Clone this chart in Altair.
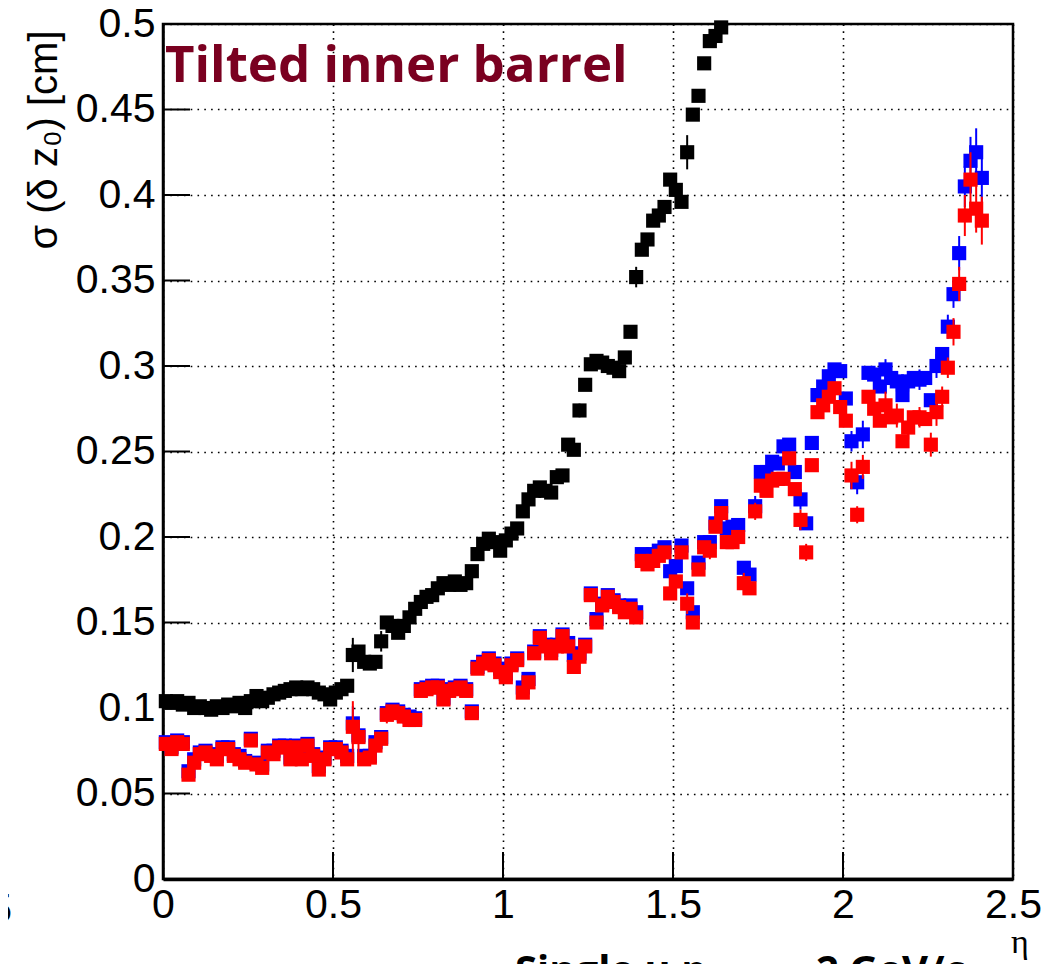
import altair as alt
import pandas as pd

# ---------------- data ----------------
BIN_WIDTH = 1 / 60.0  # eta bin width

black = [
    0.104, 0.103, 0.104, 0.102, 0.103, 0.100, 0.101, 0.100, 0.099, 0.101,
    0.100, 0.102, 0.101, 0.103, 0.100, 0.104, 0.107, 0.104, 0.106, 0.108,
    0.109, 0.110, 0.111, 0.112, 0.111, 0.112, 0.111, 0.109, 0.108, 0.105,
    0.109, 0.111, 0.113, 0.131, 0.133, 0.127, 0.126, 0.127, 0.139, 0.150,
    0.148, 0.144, 0.148, 0.153, 0.158, 0.162, 0.165, 0.166, 0.170, 0.173,
    0.172, 0.174, 0.172, 0.173, 0.180, 0.190, 0.196, 0.199, 0.197, 0.192,
    0.198, 0.202, 0.205, 0.215, 0.222, 0.227, 0.229, 0.227, 0.226, 0.235,
    0.236, 0.254, 0.251, 0.274, 0.289, 0.301, 0.303, 0.302, 0.300, 0.299,
    0.297, 0.305, 0.320, 0.352, 0.368, 0.374, 0.385, 0.388, 0.393, 0.409,
    0.403, 0.396, 0.425, 0.447, 0.458, 0.477, 0.490, 0.493, 0.498,
]

blue = [
    0.080, 0.077, 0.081, 0.080, 0.063, 0.070, 0.074, 0.075, 0.073, 0.072,
    0.077, 0.077, 0.073, 0.072, 0.069, 0.082, 0.068, 0.067, 0.075, 0.075,
    0.078, 0.078, 0.071, 0.078, 0.072, 0.079, 0.073, 0.066, 0.071, 0.077,
    0.077, 0.075, 0.072, 0.091, 0.084, 0.072, 0.072, 0.080, 0.083, 0.097,
    0.099, 0.098, 0.096, 0.095, 0.094, 0.111, 0.112, 0.113, 0.113, 0.106,
    0.111, 0.112, 0.113, 0.111, 0.098, 0.124, 0.127, 0.129, 0.126, 0.123,
    0.120, 0.126, 0.129, 0.112, 0.117, 0.133, 0.142, 0.137, 0.134, 0.137,
    0.143, 0.138, 0.131, 0.132, 0.137, 0.167, 0.152, 0.161, 0.166, 0.163,
    0.160, 0.159, 0.160, 0.156, 0.190, 0.188, 0.190, 0.192, 0.194, 0.180,
    0.183, 0.195, 0.170, 0.156, 0.185, 0.197, 0.197, 0.208, 0.218, 0.205,
    0.206, 0.207, 0.182, 0.178, 0.218, 0.238, 0.238, 0.244, 0.243, 0.253,
    0.254, 0.238, 0.222, 0.208, 0.255, 0.283, 0.288, 0.294, 0.298, 0.297,
    0.281, 0.256, 0.232, 0.260, 0.296, 0.295, 0.288, 0.298, 0.293, 0.291,
    0.283, 0.291, 0.293, 0.292, 0.293, 0.280, 0.300, 0.307, 0.323, 0.342,
    0.366, 0.405, 0.420, 0.425, 0.410,
]

red = [
    0.079, 0.076, 0.080, 0.079, 0.061, 0.068, 0.073, 0.074, 0.072, 0.070,
    0.076, 0.076, 0.072, 0.070, 0.068, 0.081, 0.067, 0.065, 0.074, 0.073,
    0.077, 0.077, 0.070, 0.077, 0.070, 0.078, 0.072, 0.064, 0.070, 0.076,
    0.076, 0.074, 0.070, 0.089, 0.083, 0.070, 0.071, 0.078, 0.082, 0.096,
    0.098, 0.097, 0.095, 0.093, 0.093, 0.110, 0.111, 0.112, 0.112, 0.105,
    0.110, 0.111, 0.112, 0.110, 0.097, 0.123, 0.126, 0.128, 0.125, 0.121,
    0.118, 0.125, 0.128, 0.109, 0.115, 0.132, 0.141, 0.136, 0.132, 0.136,
    0.142, 0.136, 0.124, 0.130, 0.136, 0.166, 0.150, 0.160, 0.165, 0.162,
    0.159, 0.156, 0.158, 0.153, 0.186, 0.184, 0.186, 0.189, 0.191, 0.167,
    0.174, 0.191, 0.161, 0.150, 0.181, 0.194, 0.192, 0.206, 0.214, 0.197,
    0.197, 0.200, 0.173, 0.170, 0.215, 0.230, 0.227, 0.233, 0.234, 0.234,
    0.246, 0.228, 0.210, 0.191, 0.242, 0.273, 0.277, 0.282, 0.287, 0.276,
    0.268, 0.236, 0.213, 0.241, 0.282, 0.275, 0.268, 0.277, 0.270, 0.271,
    0.256, 0.264, 0.270, 0.270, 0.269, 0.254, 0.273, 0.282, 0.299, 0.320,
    0.348, 0.388, 0.409, 0.392, 0.385,
]

# visible error bars: bin index -> half length
black_err_idx = [33, 38, 73, 83, 92, 97]
black_err_val = [0.010, 0.006, 0.004, 0.006, 0.010, 0.005]
blue_err_idx = [33, 104, 112, 121, 122, 123, 127, 129, 131, 133, 136, 138, 139, 140, 141, 142, 143, 144]
blue_err_val = [0.010, 0.006, 0.006, 0.006, 0.007, 0.008, 0.006, 0.006, 0.006, 0.006,
                0.007, 0.007, 0.008, 0.010, 0.012, 0.014, 0.014, 0.017]
red_err_idx = [33, 34, 39, 92, 96, 102, 104, 112, 113, 117, 121, 122, 123, 125, 127, 129,
               131, 133, 135, 136, 137, 138, 139, 140, 141, 142, 143, 144]
red_err_val = [0.015, 0.010, 0.005, 0.006, 0.005, 0.006, 0.005, 0.006, 0.005, 0.005,
               0.008, 0.005, 0.007, 0.006, 0.008, 0.007, 0.007, 0.006, 0.007, 0.008,
               0.006, 0.006, 0.008, 0.010, 0.012, 0.016, 0.014, 0.014]

x_ticks = [0, 0.5, 1, 1.5, 2, 2.5]
y_ticks = [0, 0.05, 0.1, 0.15, 0.2, 0.25, 0.3, 0.35, 0.4, 0.45, 0.5]

title_text = "Tilted inner barrel"
y_title = "σ (δ z₀) [cm]"
x_title = "η"

# ---------------- build tables ----------------
def series_frame(vals, name):
    return pd.DataFrame({
        "eta": [(i + 0.5) * BIN_WIDTH for i in range(len(vals))],
        "sigma": vals,
        "series": name,
    })

def err_frame(vals, idx, errs, name):
    rows = []
    for i, e in zip(idx, errs):
        rows.append({"eta": (i + 0.5) * BIN_WIDTH, "lo": vals[i] - e, "hi": vals[i] + e, "series": name})
    return pd.DataFrame(rows)

W, H = 850, 855
XS = alt.Scale(domain=[0, 2.5], nice=False, zero=False)
YS = alt.Scale(domain=[0, 0.5], nice=False, zero=False)
XA = alt.Axis(values=x_ticks, format="~g", title=None, labelPadding=6)
YA = alt.Axis(values=y_ticks, format="~g", title=None, labelPadding=8)

def X(field):
    return alt.X(field, type="quantitative", scale=XS, axis=XA)

def Y(field):
    return alt.Y(field, type="quantitative", scale=YS, axis=YA)

layers = []

# inward tick marks
ytick_df = pd.DataFrame({"sigma": y_ticks})
xtick_df = pd.DataFrame({"eta": x_ticks})
layers.append(alt.Chart(ytick_df).mark_rule(color="black", strokeWidth=2).encode(
    y=Y("sigma"), x=alt.value(0), x2=alt.value(27)))
layers.append(alt.Chart(xtick_df).mark_rule(color="black", strokeWidth=2).encode(
    x=X("eta"), y=alt.value(H), y2=alt.value(H - 27)))

for vals, idx, errs, name, col in [
    (blue, blue_err_idx, blue_err_val, "blue", "#0000ff"),
    (red, red_err_idx, red_err_val, "red", "#ff0000"),
    (black, black_err_idx, black_err_val, "black", "#000000"),
]:
    layers.append(alt.Chart(err_frame(vals, idx, errs, name)).mark_rule(color=col, strokeWidth=2).encode(
        x=X("eta"), y=Y("lo"), y2="hi"))
    layers.append(alt.Chart(series_frame(vals, name)).mark_square(
        color=col, size=200, opacity=1, filled=True).encode(x=X("eta"), y=Y("sigma")))

def label(text, x, y, **kw):
    return alt.Chart(pd.DataFrame({"t": [text]})).mark_text(**kw).encode(
        x=alt.value(x), y=alt.value(y), text="t:N")

layers.append(label(title_text, 2, 58, font="Open Sans", fontWeight="bold", fontSize=51,
                    color="#7a0020", align="left", baseline="alphabetic"))
layers.append(label(y_title, -118, 116, font="Liberation Sans", fontSize=40, angle=270,
                    color="black", align="center", baseline="middle"))
layers.append(label(x_title, 857, 919, font="Liberation Serif", fontSize=34,
                    color="black", align="center", baseline="middle"))
layers.append(label("2.5", -151, 886, font="Liberation Sans", fontSize=42,
                    color="black", align="right", baseline="middle"))
layers.append(label("Single μ p", 352, 960, font="Open Sans", fontWeight="bold", fontSize=40,
                    color="black", align="left", baseline="alphabetic"))
layers.append(label("T", 553, 972, font="Open Sans", fontWeight="bold", fontSize=26,
                    color="black", align="left", baseline="alphabetic"))
layers.append(label("=2 GeV/c", 802, 960, font="Open Sans", fontWeight="bold", fontSize=40,
                    color="black", align="right", baseline="alphabetic"))

chart = alt.layer(*layers).properties(
    width=W, height=H,
    autosize=alt.AutoSizeParams(type="none"),
    padding={"left": 155, "top": 16, "right": 30, "bottom": 85},
).configure_axis(
    labelFont="Liberation Sans", labelFontSize=41, labelColor="black",
    ticks=False, grid=True, gridColor="black", gridDash=[1.6, 5.2], gridWidth=1.6,
    gridOpacity=1, domainColor="black", domainWidth=2.5, labelFlush=False, labelOverlap=False,
).configure_axisX(domainWidth=3.5).configure_view(stroke="black", strokeWidth=2.5)

chart.save("out.html", embed_options={"renderer": "svg", "actions": False})
